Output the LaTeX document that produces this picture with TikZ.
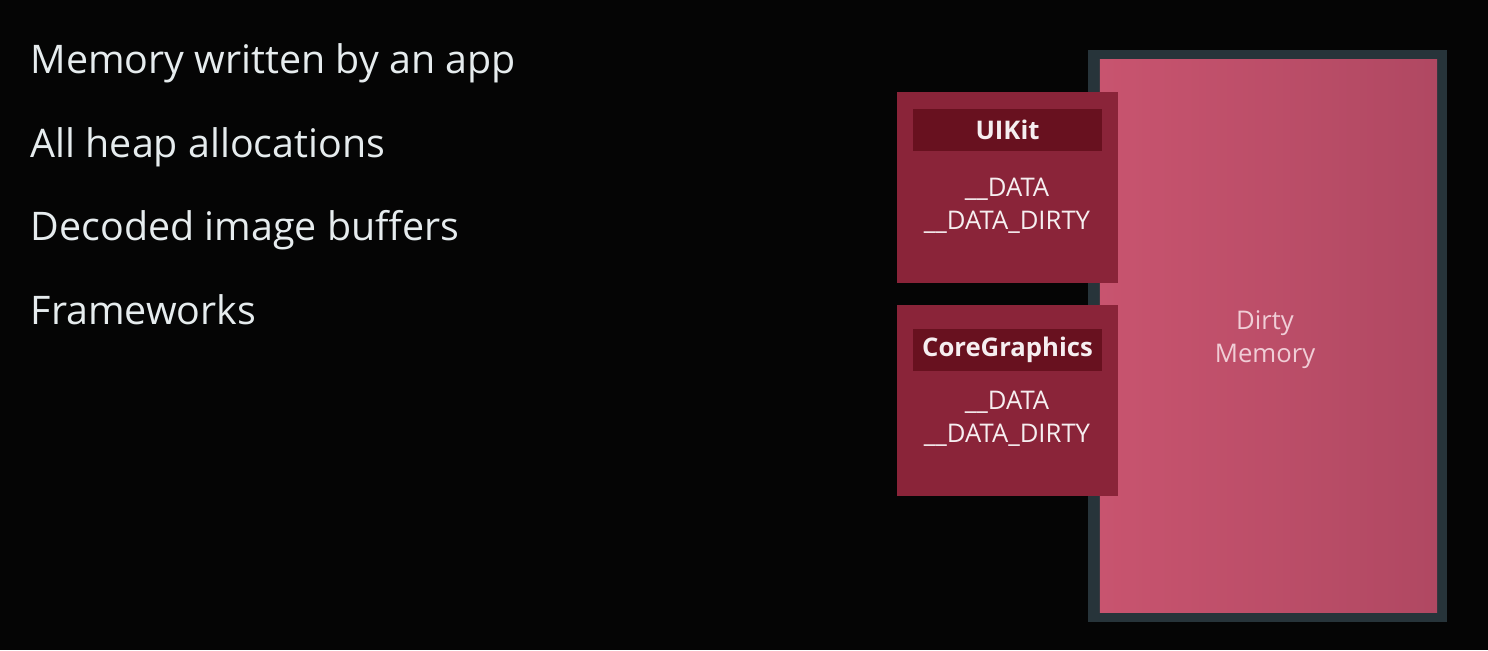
\documentclass[tikz,border=0pt]{standalone}
\usepackage{fontspec}
\setmainfont{Open Sans}
\usepackage{tikz}
\usetikzlibrary{positioning}
\usepackage{color}

\definecolor{slidebg}{HTML}{050505}
\definecolor{slidetext}{HTML}{E6ECEE}
\definecolor{dirtyframe}{HTML}{27343A}
\definecolor{dirtyfill}{HTML}{C8546F}
\definecolor{dirtyfillb}{HTML}{B04862}
\definecolor{fwfill}{HTML}{8A2439}
\definecolor{fwhead}{HTML}{68111F}
\definecolor{fwtext}{HTML}{F6EEF0}
\definecolor{dirtytext}{HTML}{F0CDD6}

\tikzset{
 bullet/.style={anchor=base west, text=slidetext, inner sep=0pt, font=\fontsize{11.2}{13}\selectfont},
 fwbox/.style={fill=fwfill, minimum width=2.21cm, minimum height=1.91cm, inner sep=0pt},
 fwhead/.style={fill=fwhead, minimum width=1.89cm, minimum height=0.42cm, inner sep=0pt,
   text=fwtext, font=\fontsize{7.3}{9}\selectfont\bfseries},
 fwsect/.style={text=fwtext, align=center, inner sep=0pt, font=\fontsize{7.3}{9.4}\selectfont}
}

\begin{document}
\begin{tikzpicture}[x=0.01cm, y=-0.01cm]

\fill[slidebg] (0,0) rectangle (1488,650);

\node[bullet] (written) at (30,73) {Memory written by an app};
\node[bullet] (heap) at (30,157) {All heap allocations};
\node[bullet] (images) at (30,240) {Decoded image buffers};
\node[bullet] (frameworks) at (30,324) {Frameworks};

\node[fill=dirtyframe, minimum width=3.59cm, minimum height=5.72cm, inner sep=0pt] (frame) at (1267.5,336) {};
\node[left color=dirtyfill, right color=dirtyfillb, minimum width=3.37cm, minimum height=5.52cm, inner sep=0pt] (dirty) at (1268.5,336) {};
\node[text=dirtytext, align=center, font=\fontsize{7.3}{9.4}\selectfont] (dirtylabel) at (1265,340) {Dirty\\Memory};

\node[fwbox] (uikit) at (1007.5,187.5) {};
\node[fwhead] (uikithead) at (1007.5,130) {UIKit};
\node[fwsect] (uikitsect) at (1007,206) {\_\_DATA\\\_\_DATA\_DIRTY};

\node[fwbox] (cg) at (1007.5,400.5) {};
\node[fwhead] (cghead) at (1007.5,350) {CoreGraphics};
\node[fwsect] (cgsect) at (1007,419) {\_\_DATA\\\_\_DATA\_DIRTY};

\end{tikzpicture}
\end{document}
